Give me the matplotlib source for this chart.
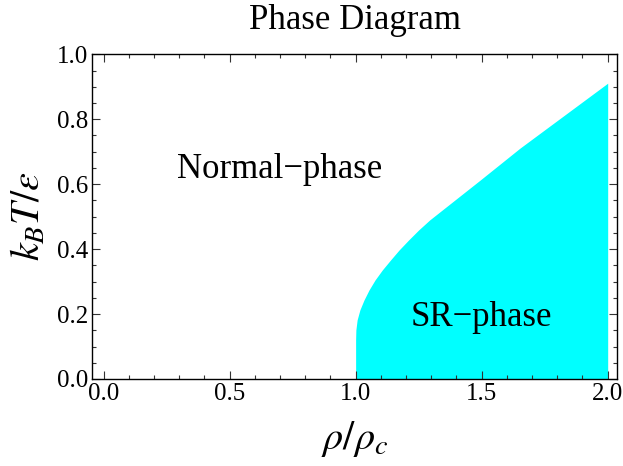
import matplotlib
matplotlib.use("Agg")
import matplotlib.pyplot as plt
from matplotlib.ticker import MultipleLocator

plt.rcParams['font.family'] = ['Liberation Serif', 'DejaVu Serif']
plt.rcParams['mathtext.fontset'] = 'stix'

# Phase boundary: temperature (y) vs density (x)
boundary_T = [0.0, 0.120, 0.151, 0.182, 0.213, 0.243, 0.274, 0.305, 0.336,
              0.367, 0.397, 0.428, 0.459, 0.490, 0.612, 0.711, 0.911]
boundary_rho = [1.0, 1.0, 1.001, 1.006, 1.017, 1.033, 1.053, 1.077, 1.106,
                1.139, 1.172, 1.210, 1.250, 1.294, 1.493, 1.652, 2.0]
rho_max = 2.0

xticks = [0.0, 0.5, 1.0, 1.5, 2.0]
yticks = [0.0, 0.2, 0.4, 0.6, 0.8, 1.0]

fig = plt.figure(figsize=(6.23, 4.66), dpi=100)
ax = fig.add_axes([0.148, 0.1867, 0.842, 0.6968])

ax.fill_betweenx(boundary_T, boundary_rho, rho_max, color='#00FFFF', linewidth=0)

ax.set_xlim(-0.045, 2.036)
ax.set_ylim(0, 1)
ax.set_xticks(xticks)
ax.set_xticklabels([f"{v:.1f}" for v in xticks])
ax.set_yticks(yticks)
ax.set_yticklabels([f"{v:.1f}" for v in yticks])
ax.xaxis.set_minor_locator(MultipleLocator(0.1))
ax.yaxis.set_minor_locator(MultipleLocator(0.05))
ax.tick_params(which='both', direction='in', top=True, right=True, labelsize=18,
               width=0.8, color='#333333', pad=3)
ax.tick_params(which='major', length=6)
ax.tick_params(which='minor', length=3)
for s in ax.spines.values():
    s.set_linewidth(1.0)

ax.text(0.70, 0.644, 'Normal\u2212phase', fontsize=25, ha='center', va='center')
ax.text(1.497, 0.188, 'SR\u2212phase', fontsize=25, ha='center', va='center')

ax.set_title('Phase Diagram', fontsize=25, pad=18)
ax.set_xlabel(r'$\rho/\rho_c$', fontsize=29, labelpad=10)
ax.set_ylabel(r'$k_B T/\varepsilon$', fontsize=29, labelpad=6)

fig.savefig('out.png', dpi=100)
